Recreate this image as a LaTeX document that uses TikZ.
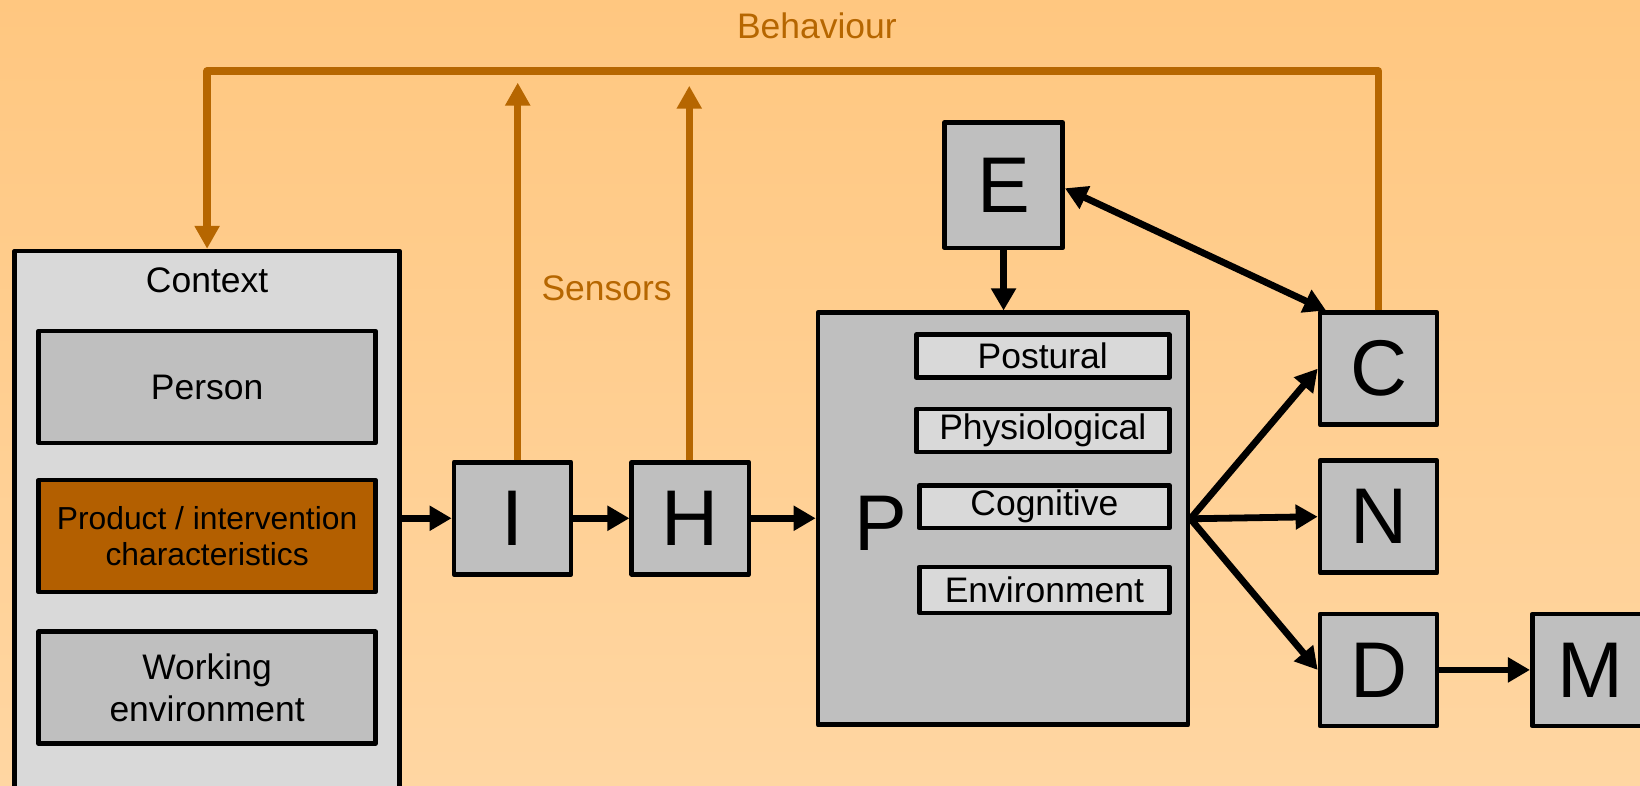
\documentclass[tikz,border=0pt]{standalone}
\usepackage{fontspec}
\setmainfont{Liberation Sans}
\usetikzlibrary{arrows.meta}
\definecolor{bgtop}{RGB}{255,199,128}
\definecolor{bgbot}{RGB}{255,214,162}
\definecolor{amber}{RGB}{182,102,0}
\definecolor{rust}{RGB}{179,95,0}
\definecolor{boxgray}{RGB}{191,191,191}
\definecolor{panelgray}{RGB}{217,217,217}
\begin{document}
\begin{tikzpicture}[x=0.02cm,y=-0.02cm,
  box/.style={draw=black, line width=2.5pt, fill=boxgray, inner sep=0pt, line join=round},
  panel/.style={box, fill=panelgray, minimum width=7.36cm, minimum height=10.6cm},
  item/.style={box, minimum width=6.44cm, minimum height=2.14cm, align=center,
    font=\fontsize{19.3}{22.7}\selectfont},
  sub/.style={box, fill=panelgray, minimum width=4.84cm, minimum height=0.82cm,
    font=\fontsize{19.3}{22.7}\selectfont},
  letter/.style={box, minimum width=2.24cm, minimum height=2.14cm,
    font=\fontsize{43}{50}\selectfont},
  label/.style={inner sep=0pt, font=\fontsize{19.3}{22.7}\selectfont},
  olabel/.style={label, text=amber},
  arr/.style={line width=3.7pt, -{Triangle[length=12pt, width=13pt]}},
  dblarr/.style={line width=3.7pt, {Triangle[length=12pt, width=13pt]}-{Triangle[length=12pt, width=13pt]}},
  oarr/.style={draw=amber, line width=4pt, line join=round,
    -{Triangle[length=12.5pt, width=13pt]}},
]
% page and background
\useasboundingbox (0,0) rectangle (1568,751);
\shade[top color=bgtop, bottom color=bgbot] (0,0) rectangle (1568,751);

% context panel with its three factors
\node[panel] (ctx) at (198,505) {};
\node[label] (ctxlabel) at (198,268) {Context};
\node[item] (person) at (198,370) {Person};
\node[item, fill=rust, font=\fontsize{17.3}{19.8}\selectfont] (product) at (198,512.5)
  {Product / intervention\\characteristics};
\node[item] (work) at (198,657.5) {Working\\environment};

% processing chain
\node[letter] (I) at (490,495.5) {I};
\node[letter] (H) at (660,495.5) {H};
\node[box, minimum width=7.08cm, minimum height=7.88cm] (P) at (959,496) {};
\node[inner sep=0pt, font=\fontsize{43}{50}\selectfont] (Pl) at (842,500) {P};
\node[sub] (post) at (997,340.5) {Postural};
\node[sub] (phys) at (997,411.5) {Physiological};
\node[sub, minimum width=4.78cm] (cogn) at (998.5,484.5) {Cognitive};
\node[sub, minimum width=4.78cm, minimum height=0.88cm] (envi) at (998.5,564) {Environment};

\node[letter, minimum width=2.26cm, minimum height=2.4cm] (E) at (959.5,177) {E};
\node[letter] (C) at (1318,352.5) {C};
\node[letter] (N) at (1318,494) {N};
\node[letter] (D) at (1318,640.5) {D};
\node[letter] (M) at (1521,640.5) {M};

% black connectors
\draw[arr] (I.west -| ctx.east) -- (I.west);
\draw[arr] (I) -- (H);
\draw[arr] (H.east) -- (P.west |- H.east);
\draw[arr] (E.south) -- (E.south |- P.north);
\draw[dblarr] ([yshift=-0.06cm]E.east) -- ([xshift=0.16cm]C.north west);
\draw[arr] (P.east) -- (C.west);
\draw[arr] (P.east) -- (N.west);
\draw[arr] (P.east) -- (D.west);
\draw[arr] (D) -- (M);

% behaviour feedback loop and sensor outputs
\coordinate (btop) at (0,68);
\draw[oarr] (C.north) -- (C.north |- btop) -| (ctx.north);
\coordinate (sI) at (495,79);
\coordinate (sH) at (659,82);
\draw[oarr] (sI |- I.north) -- (sI);
\draw[oarr] (sH |- H.north) -- (sH);
\node[olabel] (bhv) at (781,25) {Behaviour};
\node[olabel] (sens) at (580,276) {Sensors};
\end{tikzpicture}
\end{document}
